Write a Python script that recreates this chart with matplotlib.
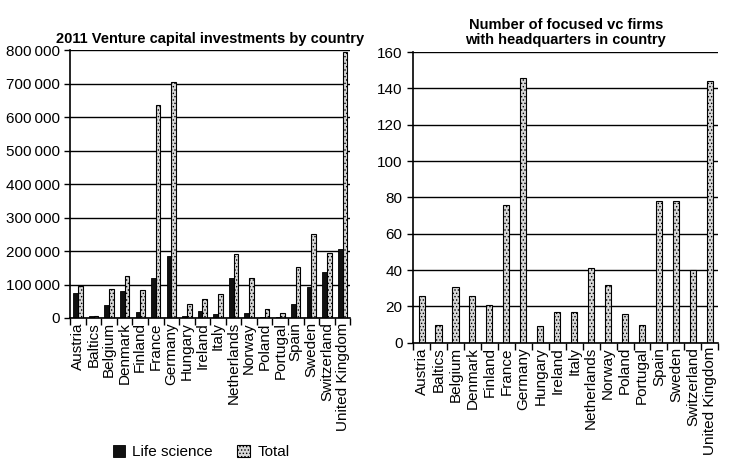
import numpy as np
import matplotlib.pyplot as plt
from matplotlib.ticker import FuncFormatter

plt.rcParams['font.family'] = ['Liberation Sans', 'DejaVu Sans']
plt.rcParams['hatch.color'] = '#777777'
plt.rcParams['hatch.linewidth'] = 0.6

countries = ['Austria', 'Baltics', 'Belgium', 'Denmark', 'Finland', 'France',
             'Germany', 'Hungary', 'Ireland', 'Italy', 'Netherlands', 'Norway',
             'Poland', 'Portugal', 'Spain', 'Sweden', 'Switzerland',
             'United Kingdom']

# 2011 venture capital investments
life_science = [75000, 5000, 38000, 80000, 18000, 120000, 185000, 5000, 20000,
                12000, 120000, 15000, 3000, 2000, 42000, 92000, 138000, 205000]
total = [95000, 5000, 88000, 125000, 85000, 635000, 705000, 42000, 58000,
         72000, 190000, 118000, 28000, 15000, 152000, 250000, 193000, 795000]

# number of focused vc firms with HQ in country
vc_firms = [26, 10, 31, 26, 21, 76, 146, 9, 17, 17, 41, 32, 16, 10, 78, 78,
            40, 144]

fig = plt.figure(figsize=(7.39, 4.69), dpi=100)
ax1 = fig.add_axes([0.095, 0.322, 0.379, 0.571])
ax2 = fig.add_axes([0.559, 0.269, 0.413, 0.62])

x = np.arange(len(countries))
gray = '#d8d8d8'
fs = 11


def style_axis(ax, n):
    for s in ['top', 'right']:
        ax.spines[s].set_visible(False)
    ax.spines['left'].set_linewidth(1.2)
    ax.spines['bottom'].set_linewidth(1.2)
    ax.yaxis.grid(True, color='black', linewidth=1.0)
    ax.set_axisbelow(True)
    ax.set_xlim(-0.5, n - 0.5)
    ax.set_xticks(x)
    ax.set_xticklabels(countries, rotation=90, fontsize=fs)
    ax.set_xticks(np.arange(-0.5, n, 1.0), minor=True)
    ax.tick_params(axis='x', which='major', length=0, pad=3)
    ax.tick_params(axis='x', which='minor', length=5, width=1, direction='out')
    ax.tick_params(axis='y', labelsize=fs, length=4, width=1)


# left chart
w = 0.3
ax1.bar(x - w / 2, life_science, w, color='#111111', edgecolor='black',
        linewidth=0.6, label='Life science')
ax1.bar(x + w / 2, total, w, color=gray, edgecolor='black', hatch='.....',
        linewidth=0.8, label='Total')
ax1.set_ylim(0, 800000)
ax1.set_yticks(np.arange(0, 800001, 100000))
ax1.yaxis.set_major_formatter(FuncFormatter(
    lambda v, p: '0' if v == 0 else '{:,.0f}'.format(v).replace(',', '\u2009')))
style_axis(ax1, len(countries))
ax1.set_title('2011 Venture capital investments by country', fontsize=10.5,
              fontweight='bold', pad=5)
fig.legend(*ax1.get_legend_handles_labels(), loc='center',
           bbox_to_anchor=(0.272, 0.036), ncol=2, frameon=False, fontsize=fs,
           handlelength=0.8, handleheight=0.8, columnspacing=1.6,
           handletextpad=0.5)

# right chart
ax2.bar(x, vc_firms, 0.36, color=gray, edgecolor='black', hatch='.....',
        linewidth=0.8)
ax2.set_ylim(0, 160)
ax2.set_yticks(np.arange(0, 161, 20))
style_axis(ax2, len(countries))
ax2.set_title('Number of focused vc firms\nwith headquarters in country',
              fontsize=10.5, fontweight='bold', pad=6, linespacing=1.1)

fig.savefig('out.png', dpi=100)
